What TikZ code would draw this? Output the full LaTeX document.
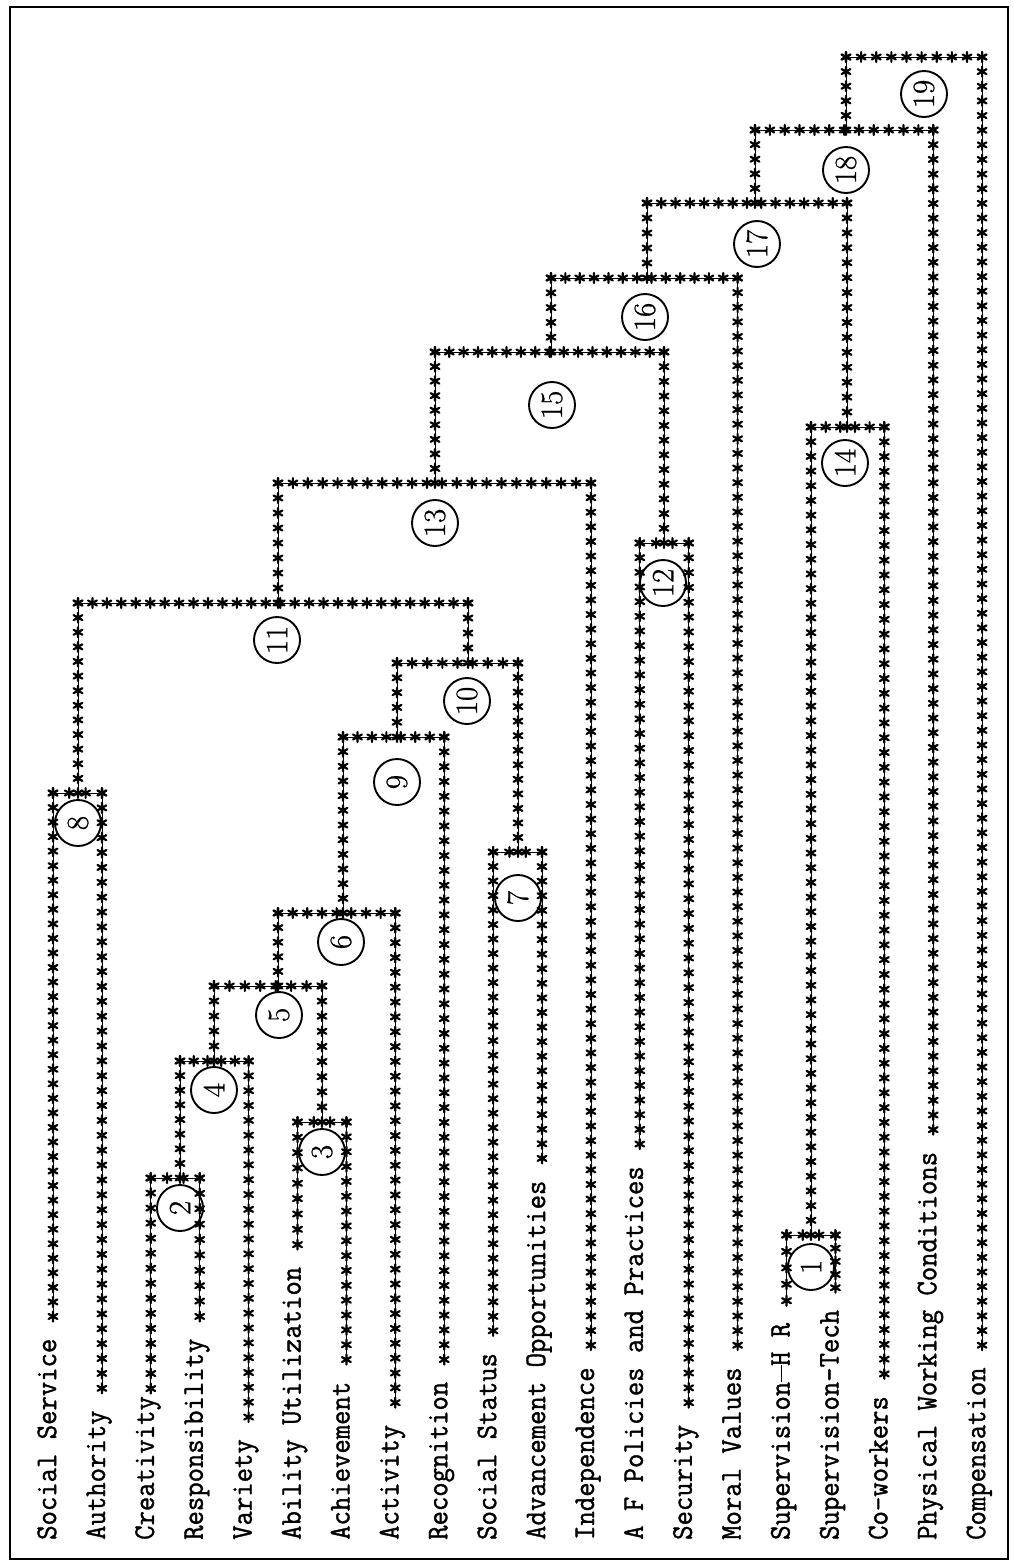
\documentclass[tikz,border=0pt]{standalone}
\usepackage{fontspec}
\newfontfamily\typew[FakeStretch=0.93, FakeBold=1.2]{Latin Modern Mono}
\newfontfamily\numfont[FakeBold=0.8]{Latin Modern Roman}
\usetikzlibrary{calc}
\newcommand\longdash{\makebox[0.525em]{\rule[0.24em]{0.56em}{0.06em}}}
\tikzset{
  lbl/.style={rotate=90, anchor=west, inner sep=0pt, text height=0.62em, text depth=0pt,
    font=\typew\fontsize{30}{30}\selectfont},
  num/.style={circle, draw, line width=1.9pt, minimum size=46pt, inner sep=0pt, rotate=90,
    font=\numfont\fontsize{31}{31}\selectfont},
  thinline/.style={line width=0.8pt},
  frame/.style={line width=2.5pt},
  astk/.pic={\draw[line width=2.2pt, line cap=round] (0,-5)--(0,5) (-4.4,-2.5)--(4.4,2.5) (-4.4,2.5)--(4.4,-2.5);}
}
\newcommand\astline[2]{%
  \draw[thinline] (#1) -- (#2);
  \pgfpointdiff{\pgfpointanchor{#1}{center}}{\pgfpointanchor{#2}{center}}%
  \pgfgetlastxy{\astdx}{\astdy}%
  \pgfmathtruncatemacro\astn{max(1,round(veclen(\astdx,\astdy)/14.7))}%
  \foreach \ii in {0,...,\astn}{\pic at ($(#1)!\ii/\astn!(#2)$) {astk};}%
}
\begin{document}
\begin{tikzpicture}[x=1pt,y=-1pt]
\useasboundingbox (0,0) rectangle (1013,1564);
\draw[frame] (10,7) rectangle (1008,1559);

% labels
\node[lbl] (L0)  at (53.0,1540)  {Social Service};
\node[lbl] (L1)  at (101.9,1540) {Authority};
\node[lbl] (L2)  at (150.8,1540) {Creativity};
\node[lbl] (L3)  at (199.7,1540) {Responsibility};
\node[lbl] (L4)  at (248.6,1540) {Variety};
\node[lbl] (L5)  at (297.5,1540) {Ability Utilization};
\node[lbl] (L6)  at (346.4,1540) {Achievement};
\node[lbl] (L7)  at (395.3,1540) {Activity};
\node[lbl] (L8)  at (444.2,1540) {Recognition};
\node[lbl] (L9)  at (493.1,1540) {Social Status};
\node[lbl] (L10) at (542.0,1540) {Advancement Opportunities};
\node[lbl] (L11) at (590.9,1540) {Independence};
\node[lbl] (L12) at (639.8,1540) {A F Policies and Practices};
\node[lbl] (L13) at (688.7,1540) {Security};
\node[lbl] (L14) at (737.6,1540) {Moral Values};
\node[lbl] (L15) at (786.5,1540) {Supervision\longdash H R};
\node[lbl] (L16) at (835.4,1540) {Supervision-Tech};
\node[lbl] (L17) at (884.3,1540) {Co-workers};
\node[lbl] (L18) at (933.2,1540) {Physical Working Conditions};
\node[lbl] (L19) at (982.1,1540) {Compensation};

% start of each asterisk line
\foreach \i in {0,1,3,4,5,6,7,8,9,10,11,12,13,14,15,16,17,18,19}{
  \coordinate (a\i) at ($(L\i.east)+(0,-22)$);
}
\coordinate (a2) at ($(L2.east)+(0,-7.35)$);

% merge bars: left end, right end, stem point
\coordinate (bL1) at (786.5,1235); \coordinate (bR1) at (835.4,1235); \coordinate (bS1) at (811,1235);
\coordinate (bL2) at (150.8,1178); \coordinate (bR2) at (199.7,1178); \coordinate (bS2) at (180,1178);
\coordinate (bL3) at (297.5,1122); \coordinate (bR3) at (346.4,1122); \coordinate (bS3) at (322,1122);
\coordinate (bL4) at (180,1061);   \coordinate (bR4) at (248.6,1061); \coordinate (bS4) at (214,1061);
\coordinate (bL5) at (214,986);    \coordinate (bR5) at (322,986);    \coordinate (bS5) at (278,986);
\coordinate (bL6) at (278,913);    \coordinate (bR6) at (395.3,913);  \coordinate (bS6) at (343,913);
\coordinate (bL7) at (493.1,852);  \coordinate (bR7) at (542.0,852);  \coordinate (bS7) at (518,852);
\coordinate (bL8) at (53.0,793);   \coordinate (bR8) at (101.9,793);  \coordinate (bS8) at (78,793);
\coordinate (bL9) at (343,737);    \coordinate (bR9) at (444.2,737);  \coordinate (bS9) at (397,737);
\coordinate (bL10) at (397,663);   \coordinate (bR10) at (518,663);   \coordinate (bS10) at (468,663);
\coordinate (bL11) at (78,603);    \coordinate (bR11) at (468,603);   \coordinate (bS11) at (278,603);
\coordinate (bL12) at (639.8,543); \coordinate (bR12) at (688.7,543); \coordinate (bS12) at (664,543);
\coordinate (bL13) at (278,483);   \coordinate (bR13) at (590.9,483); \coordinate (bS13) at (435,483);
\coordinate (bL14) at (811,427);   \coordinate (bR14) at (884.3,427); \coordinate (bS14) at (847,427);
\coordinate (bL15) at (435,352);   \coordinate (bR15) at (664,352);   \coordinate (bS15) at (551,352);
\coordinate (bL16) at (551,278);   \coordinate (bR16) at (737.6,278); \coordinate (bS16) at (647,278);
\coordinate (bL17) at (647,203);   \coordinate (bR17) at (847,203);   \coordinate (bS17) at (755,203);
\coordinate (bL18) at (755,130);   \coordinate (bR18) at (933.2,130); \coordinate (bS18) at (846,130);
\coordinate (bL19) at (846,57);    \coordinate (bR19) at (982.1,57);

% bars
\foreach \k in {1,...,19}{ \astline{bL\k}{bR\k} }

% leaf lines
\astline{a0}{bL8}   \astline{a1}{bR8}
\astline{a2}{bL2}   \astline{a3}{bR2}
\astline{a4}{bR4}
\astline{a5}{bL3}   \astline{a6}{bR3}
\astline{a7}{bR6}   \astline{a8}{bR9}
\astline{a9}{bL7}   \astline{a10}{bR7}
\astline{a11}{bR13}
\astline{a12}{bL12} \astline{a13}{bR12}
\astline{a14}{bR16}
\astline{a15}{bL1}  \astline{a16}{bR1}
\astline{a17}{bR14} \astline{a18}{bR18} \astline{a19}{bR19}

% stems
\astline{bS1}{bL14}  \astline{bS2}{bL4}   \astline{bS3}{bR5}
\astline{bS4}{bL5}   \astline{bS5}{bL6}   \astline{bS6}{bL9}
\astline{bS7}{bR10}  \astline{bS8}{bL11}  \astline{bS9}{bL10}
\astline{bS10}{bR11} \astline{bS11}{bL13} \astline{bS12}{bR15}
\astline{bS13}{bL15} \astline{bS14}{bR17} \astline{bS15}{bL16}
\astline{bS16}{bL17} \astline{bS17}{bL18} \astline{bS18}{bL19}

% circled numbers
\node[num] (C1)  at (811,1267) {1};
\node[num] (C2)  at (180,1208) {2};
\node[num] (C3)  at (322,1152) {3};
\node[num] (C4)  at (214,1090) {4};
\node[num] (C5)  at (279,1015) {5};
\node[num] (C6)  at (341,942)  {6};
\node[num] (C7)  at (518,898)  {7};
\node[num] (C8)  at (78,823)   {8};
\node[num] (C9)  at (397,782)  {9};
\node[num] (C10) at (467,701)  {10};
\node[num] (C11) at (277,640)  {11};
\node[num] (C12) at (663,583)  {12};
\node[num] (C13) at (435,523)  {13};
\node[num] (C14) at (845,463)  {14};
\node[num] (C15) at (552,405)  {15};
\node[num] (C16) at (645,317)  {16};
\node[num] (C17) at (757,244)  {17};
\node[num] (C18) at (846,170)  {18};
\node[num] (C19) at (924,94)   {19};
\end{tikzpicture}
\end{document}
